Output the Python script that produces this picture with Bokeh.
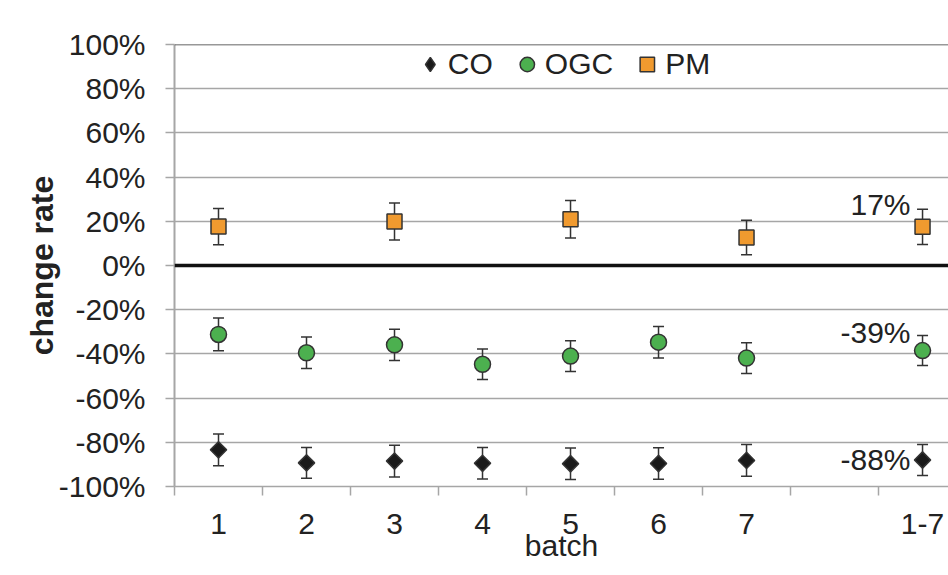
from bokeh.plotting import figure
from bokeh.models import (ColumnDataSource, Whisker, Span, FixedTicker,
                          NumeralTickFormatter, Legend, LegendItem, TeeHead, Range1d)
from bokeh.core.properties import value
from bokeh.embed import file_html
from bokeh.resources import INLINE

# ---- data ----
batch_labels = ["1", "2", "3", "4", "5", "6", "7", "1-7"]
batch_pos = [1, 2, 3, 4, 5, 6, 7, 9]
boundaries = [0.5, 1.5, 2.5, 3.5, 4.5, 5.5, 6.5, 7.5, 8.5]

co_vals = [-0.834, -0.893, -0.885, -0.895, -0.897, -0.896, -0.882, -0.88]
co_err = [0.072, 0.070, 0.072, 0.071, 0.071, 0.071, 0.072, 0.070]

ogc_vals = [-0.312, -0.395, -0.359, -0.447, -0.41, -0.347, -0.419, -0.385]
ogc_err = [0.074, 0.071, 0.071, 0.069, 0.070, 0.071, 0.070, 0.068]

pm_pos = [1, 3, 5, 7, 9]
pm_vals = [0.176, 0.199, 0.209, 0.127, 0.175]
pm_err = [0.082, 0.084, 0.085, 0.078, 0.080]

summary_labels = ["17%", "-39%", "-88%"]
summary_vals = [0.175, -0.385, -0.88]

FONT = "Liberation Sans"
FS = "30px"

p = figure(width=948, height=575, output_backend="svg", toolbar_location=None,
           x_range=Range1d(0.5, 9.295), y_range=Range1d(-1.0, 1.0),
           min_border_left=174, min_border_right=0, min_border_top=44,
           min_border_bottom=89)
p.outline_line_color = None
p.background_fill_color = "white"

# grid
p.xgrid.visible = False
p.ygrid.grid_line_color = "#a6a6a6"
p.ygrid.grid_line_width = 1.5

# y axis
p.yaxis.ticker = FixedTicker(ticks=[-1.0, -0.8, -0.6, -0.4, -0.2, 0.0, 0.2, 0.4, 0.6, 0.8, 1.0])
p.yaxis.formatter = NumeralTickFormatter(format="0%")
p.yaxis.axis_line_color = "#a6a6a6"
p.yaxis.axis_line_width = 2
p.yaxis.major_tick_line_color = "#a6a6a6"
p.yaxis.major_tick_line_width = 1.5
p.yaxis.major_tick_out = 9
p.yaxis.major_tick_in = 0
p.yaxis.minor_tick_line_color = None
p.yaxis.major_label_text_font = FONT
p.yaxis.major_label_text_font_size = FS
p.yaxis.major_label_text_color = "#222222"
p.yaxis.major_label_standoff = 20
p.yaxis.axis_label = "change rate"
p.yaxis.axis_label_text_font = FONT
p.yaxis.axis_label_text_font_size = "32px"
p.yaxis.axis_label_text_font_style = "bold"
p.yaxis.axis_label_text_color = "#222222"
p.yaxis.axis_label_standoff = -4

# x axis
p.xaxis.ticker = FixedTicker(ticks=batch_pos, minor_ticks=boundaries)
p.xaxis.major_label_overrides = {pos: lab for pos, lab in zip(batch_pos, batch_labels)}
p.xaxis.axis_line_color = "#a6a6a6"
p.xaxis.axis_line_width = 1.5
p.xaxis.major_tick_line_color = None
p.xaxis.minor_tick_line_color = "#a6a6a6"
p.xaxis.minor_tick_line_width = 1.5
p.xaxis.minor_tick_out = 9
p.xaxis.minor_tick_in = 0
p.xaxis.major_label_text_font = FONT
p.xaxis.major_label_text_font_size = FS
p.xaxis.major_label_text_color = "#222222"
p.xaxis.major_label_standoff = 18
p.xaxis.axis_label = "batch"
p.xaxis.axis_label_text_font = FONT
p.xaxis.axis_label_text_font_size = FS
p.xaxis.axis_label_text_font_style = "normal"
p.xaxis.axis_label_text_color = "#222222"
p.xaxis.axis_label_standoff = -8

# zero line and top line
p.add_layout(Span(location=0, dimension="width", line_color="#111111", line_width=3.5))
p.add_layout(Span(location=1.0, dimension="width", line_color="#333333", line_width=1.5))

def add_series(xs, ys, errs, marker, size, fill, angle=0.0):
    src = ColumnDataSource(dict(x=xs, y=ys,
                                lo=[a - e for a, e in zip(ys, errs)],
                                hi=[a + e for a, e in zip(ys, errs)]))
    w = Whisker(source=src, base="x", lower="lo", upper="hi",
                line_color="#333333", line_width=1.5,
                upper_head=TeeHead(size=11, line_color="#333333", line_width=1.5),
                lower_head=TeeHead(size=11, line_color="#333333", line_width=1.5))
    p.add_layout(w)
    r = p.scatter("x", "y", source=src, marker=marker, size=size,
                  fill_color=fill, line_color="#333333", line_width=1.5, angle=angle)
    return r

r_co = add_series(batch_pos, co_vals, co_err, "square", 11.5, "#1a1a1a", angle=0.785398)
r_ogc = add_series(batch_pos, ogc_vals, ogc_err, "circle", 16, "#4cb04f")
r_pm = add_series(pm_pos, pm_vals, pm_err, "square", 15, "#f09a2f")

# legend proxy for the diamond (legend ignores marker angle); NaN -> nothing drawn in plot
nan = float("nan")
r_co_leg = p.scatter(x=[nan], y=[nan], marker="diamond", size=14,
                     fill_color="#1a1a1a", line_color="#333333", line_width=1.5)

# summary annotations
tsrc = ColumnDataSource(dict(x=[9, 9, 9], y=summary_vals, t=summary_labels,
                             yo=[-22, -18, 0]))
p.text("x", "y", text="t", source=tsrc, x_offset=-12, y_offset="yo",
       text_align="right", text_baseline="middle",
       text_font=value(FONT), text_font_size=FS, text_color="#222222")

legend = Legend(items=[LegendItem(label="CO", renderers=[r_co_leg]),
                       LegendItem(label="OGC", renderers=[r_ogc]),
                       LegendItem(label="PM", renderers=[r_pm])],
                orientation="horizontal", location="top_center",
                label_text_font=FONT, label_text_font_size=FS,
                label_text_color="#222222",
                border_line_color=None, background_fill_alpha=0,
                glyph_width=36, glyph_height=36, label_standoff=-4, spacing=16,
                padding=2, margin=2)
p.add_layout(legend)

open("out.html", "w").write(file_html(p, INLINE))
